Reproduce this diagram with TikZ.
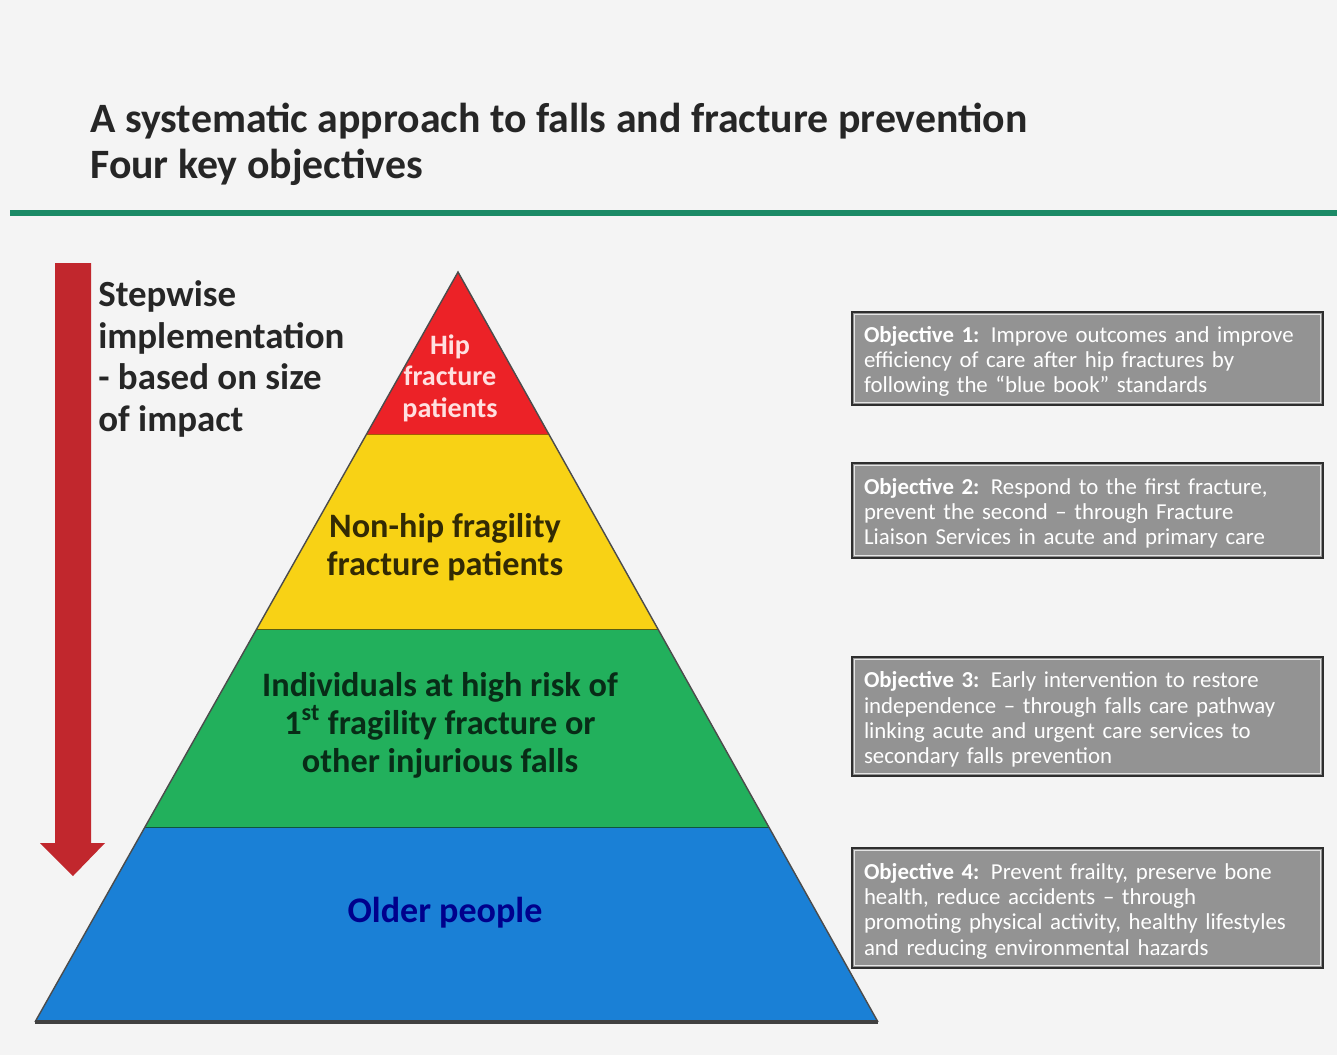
\documentclass[tikz,border=0pt]{standalone}
\usepackage{fontspec}
\setmainfont{Carlito}
\usetikzlibrary{calc}
\definecolor{pagebg}{HTML}{F4F4F4}
\definecolor{rulegreen}{HTML}{1B8A66}
\definecolor{arrowred}{HTML}{C1272D}
\definecolor{tierred}{HTML}{EC2227}
\definecolor{tieryellow}{HTML}{F8D215}
\definecolor{tiergreen}{HTML}{22B05C}
\definecolor{tierblue}{HTML}{1A80D6}
\definecolor{boxgrey}{HTML}{939393}
\definecolor{boxedge}{HTML}{2E2E2E}
\begin{document}
\begin{tikzpicture}[x=0.02cm,y=-0.02cm,
  objbox/.style={draw=boxedge,line width=1.6pt,fill=boxgrey,minimum width=9.42cm},
  objtext/.style={anchor=west,inner sep=0pt,text width=8.9cm,align=left,text=white,
    xshift=0.26cm,yshift=-0.22cm,font=\fontsize{13}{14.4}\selectfont},
  boxinner/.style={draw=white!75!boxgrey,line width=0.6pt},
  tiertext/.style={align=center,font=\bfseries\fontsize{19.5}{22}\selectfont}]
\fill[pagebg] (0,0) rectangle (1337,1055);
\useasboundingbox (0,0) rectangle (1337,1055);
\node[anchor=base west,align=left,inner sep=0pt,font=\bfseries\fontsize{23.8}{26}\selectfont,text=black!85]
  (title) at (90,178) {A systematic approach to falls and fracture prevention\\Four key objectives};
\draw[rulegreen,line width=3pt] (10,213) -- (1337,213);
\fill[arrowred] (55,263) -- (91,263) -- (91,843) -- (105,843) -- (73,876) -- (40,843) -- (55,843) -- cycle;
\node[anchor=north west,align=left,font=\bfseries\fontsize{21}{23.8}\selectfont,text=black!85,inner sep=0pt]
  (stepwise) at (98,280) {Stepwise\\implementation\\- based on size\\of impact};
\coordinate (apex) at (458,272);
\coordinate (bl) at (35,1022);
\coordinate (br) at (878,1022);
\foreach \ta/\tb/\col/\sep in {0/0.2173/tierred/orange!60!black,0.2173/0.4773/tieryellow/black!60!tieryellow,
  0.4773/0.7413/tiergreen/black!55!tiergreen,0.7413/1/tierblue/black}{
  \fill[\col] ($(apex)!\ta!(bl)$) -- ($(apex)!\tb!(bl)$) -- ($(apex)!\tb!(br)$) -- ($(apex)!\ta!(br)$) -- cycle;
  \draw[\sep,line width=1.4pt] ($(apex)!\tb!(bl)$) -- ($(apex)!\tb!(br)$);
}
\draw[black!70,line width=0.8pt] (bl) -- (apex) -- (br);
\draw[black!75,line width=2.5pt] (bl) -- (br);
\node[tiertext,text=red!12!white,font=\bfseries\fontsize{16}{18}\selectfont] (hip) at (450,378) {Hip\\fracture\\patients};
\node[tiertext,text=black!80!tieryellow] (nonhip) at (445,547) {Non-hip fragility\\fracture patients};
\node[tiertext,text=black!75!tiergreen,font=\bfseries\fontsize{19.5}{21.6}\selectfont] (highrisk) at (440,725) {Individuals at high risk of\\1\textsuperscript{st} fragility fracture or\\other injurious falls};
\node[tiertext,text=blue!55!black,font=\bfseries\fontsize{20.5}{22}\selectfont] (older) at (445,913) {Older people};
\foreach \t/\ht/\yc [count=\i] in {
  {\textbf{Objective 1:} Improve outcomes and improve\\efficiency of care after hip fractures by\\following the ``blue book'' standards}/93/358.5,
  {\textbf{Objective 2:} Respond to the first fracture,\\prevent the second -- through Fracture\\Liaison Services in acute and primary care}/95/510.5,
  {\textbf{Objective 3:} Early intervention to restore\\independence -- through falls care pathway\\linking acute and urgent care services to\\secondary falls prevention}/119/716.5,
  {\textbf{Objective 4:} Prevent frailty, preserve bone\\health, reduce accidents -- through\\promoting physical activity, healthy lifestyles\\and reducing environmental hazards}/120/908}{
  \node[objbox,minimum height=\ht*0.02cm] (o\i) at (1087.5,\yc) {};
  \draw[boxinner] ([shift={(4,-4)}]o\i.south west) rectangle ([shift={(-4,4)}]o\i.north east);
  \node[objtext] (t\i) at (o\i.west) {\t};
}
\end{tikzpicture}
\end{document}
